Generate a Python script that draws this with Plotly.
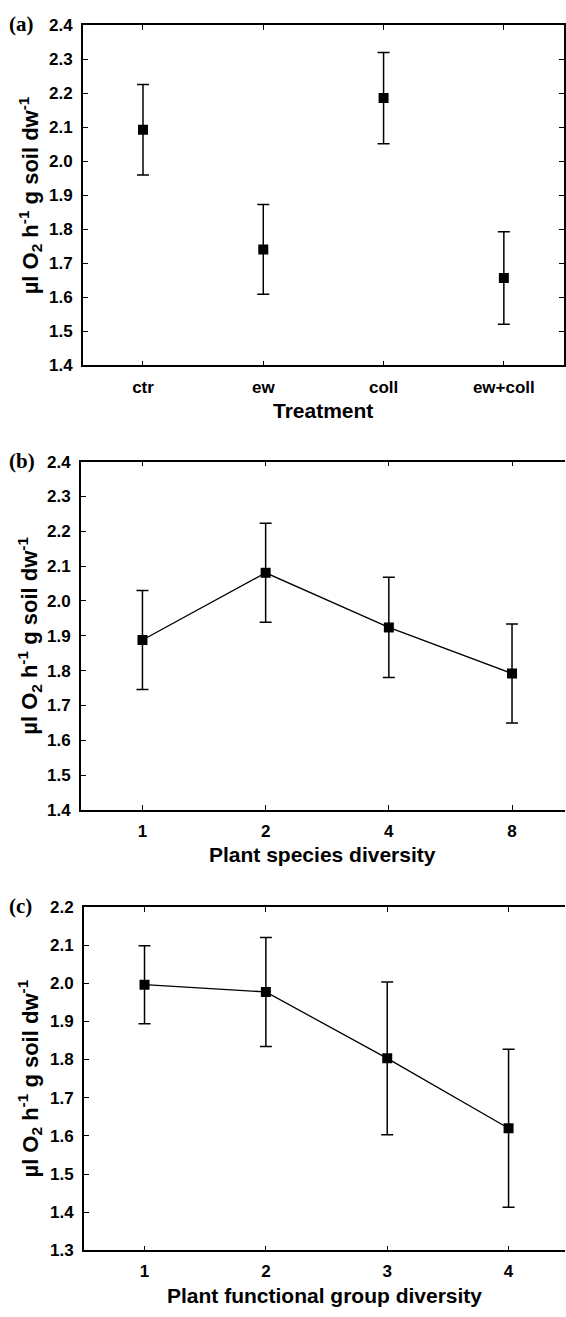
import plotly.graph_objects as go

W, H = 566, 1317

# ---- data ----
treat_cats = ["ctr", "ew", "coll", "ew+coll"]
treat_mean = [2.093, 1.741, 2.186, 1.657]
treat_err = [0.133, 0.132, 0.134, 0.136]

species_cats = ["1", "2", "4", "8"]
species_mean = [1.888, 2.081, 1.924, 1.792]
species_err = [0.142, 0.142, 0.144, 0.142]

fg_cats = ["1", "2", "3", "4"]
fg_mean = [1.996, 1.977, 1.803, 1.620]
fg_err = [0.102, 0.143, 0.200, 0.207]

ytitle = "µl O<sub>2</sub> h<sup>-1</sup> g soil dw<sup>-1</sup>"
xtitles = ["Treatment", "Plant species diversity", "Plant functional group diversity"]
panel_labels = ["(a)", "(b)", "(c)"]

# ---- layout geometry (pixels) ----
# (left, right, top, bottom) of each plot area
boxes = [(83, 565, 16.5, 361.7), (81, 566, 459.3, 812.7), (84, 566, 911.0, 1259.5)]
xranges = [[-0.5, 3.5], [-0.5, 3.43], [-0.5, 3.465]]
yranges = [[1.4, 2.4], [1.4, 2.4], [1.3, 2.2]]
ymirror = ["ticks", False, False]

SANS = "Liberation Sans, Arial, sans-serif"
SERIF = "Liberation Serif, Times New Roman, serif"

fig = go.Figure()

series = [
    (treat_cats, treat_mean, treat_err, "markers"),
    (species_cats, species_mean, species_err, "lines+markers"),
    (fg_cats, fg_mean, fg_err, "lines+markers"),
]

for i, (cats, mean, err, mode) in enumerate(series):
    sfx = "" if i == 0 else str(i + 1)
    fig.add_trace(go.Scatter(
        x=cats, y=mean, mode=mode,
        xaxis="x" + sfx, yaxis="y" + sfx,
        line=dict(color="black", width=1.3),
        marker=dict(symbol="square", size=10, color="black"),
        error_y=dict(type="data", array=err, visible=True,
                     color="black", thickness=1.5, width=6),
        showlegend=False,
    ))

layout = dict(
    width=W, height=H,
    margin=dict(l=0, r=0, t=0, b=0),
    paper_bgcolor="white", plot_bgcolor="white",
    showlegend=False,
    annotations=[],
)

for i in range(3):
    l, r, t, b = boxes[i]
    sfx = "" if i == 0 else str(i + 1)
    layout["xaxis" + sfx] = dict(
        domain=[l / W, r / W],
        anchor="y" + sfx,
        type="category",
        range=xranges[i],
        showline=True, linecolor="black", linewidth=1.5,
        mirror="ticks",
        ticks="inside", ticklen=5, tickwidth=1.2, tickcolor="black",
        showgrid=False, zeroline=False,
        tickfont=dict(family=SANS, size=17, color="black", weight="bold"),
        ticklabelstandoff=5,
        fixedrange=True,
    )
    layout["yaxis" + sfx] = dict(
        domain=[1 - b / H, 1 - t / H],
        anchor="x" + sfx,
        range=yranges[i],
        dtick=0.1, tick0=1.3,
        tickformat=".1f",
        showline=True, linecolor="black", linewidth=1.5,
        mirror=ymirror[i],
        ticks="inside", ticklen=5, tickwidth=1.2, tickcolor="black",
        showgrid=False, zeroline=False,
        tickfont=dict(family=SANS, size=17, color="black", weight="bold"),
        ticklabelstandoff=5,
        fixedrange=True,
    )
    # y title
    layout["annotations"].append(dict(
        text=ytitle, textangle=-90,
        x=30 / W, y=1 - (t + b) / 2 / H,
        xref="paper", yref="paper", xanchor="center", yanchor="middle",
        showarrow=False,
        font=dict(family=SANS, size=22, color="black", weight="bold"),
    ))
    # x title
    layout["annotations"].append(dict(
        text=xtitles[i],
        x=(l + r) / 2 / W, y=1 - (b + 45.5) / H,
        xref="paper", yref="paper", xanchor="center", yanchor="middle",
        showarrow=False,
        font=dict(family=SANS, size=21, color="black", weight="bold"),
    ))
    # panel label
    layout["annotations"].append(dict(
        text=panel_labels[i],
        x=7 / W, y=1 - (t - 1) / H,
        xref="paper", yref="paper", xanchor="left", yanchor="middle",
        showarrow=False,
        font=dict(family=SERIF, size=21, color="black", weight="bold"),
    ))

fig.update_layout(**layout)
fig.write_html("out.html")
